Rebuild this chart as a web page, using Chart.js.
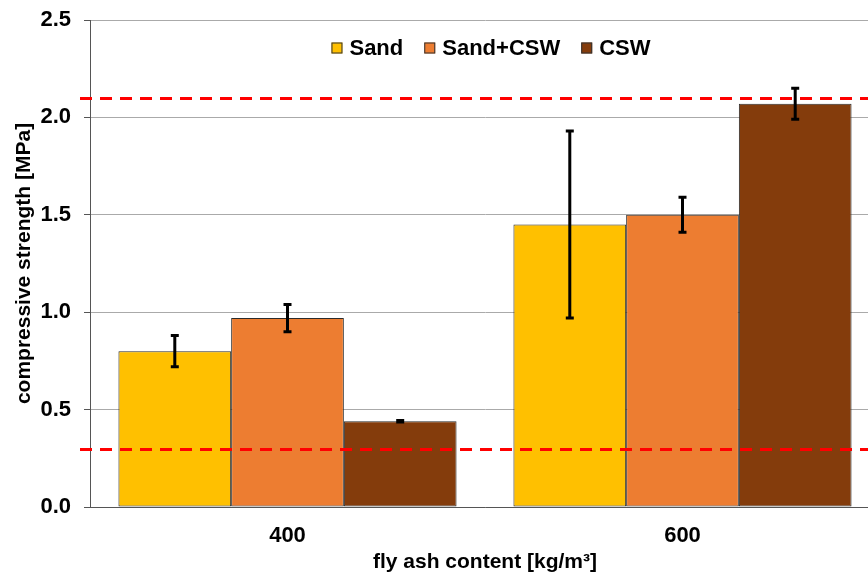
<!DOCTYPE html>
<html>
<head>
<meta charset="utf-8">
<script src="https://cdn.jsdelivr.net/npm/chart.js@4.4.1/dist/chart.umd.min.js"></script>
<style>
html, body { margin: 0; padding: 0; background: #fff; overflow: hidden; }
#wrap { position: relative; width: 890px; height: 575px; }
</style>
</head>
<body>
<div id="wrap"><canvas id="myChart" width="890" height="575"></canvas></div>
<script>
// data
var categories = ['400', '600'];
var seriesNames = ['Sand', 'Sand+CSW', 'CSW'];
var sandValues = [0.80, 1.45];
var sandCswValues = [0.97, 1.50];
var cswValues = [0.44, 2.07];
var sandErrors = [0.08, 0.48];
var sandCswErrors = [0.07, 0.09];
var cswErrors = [0.004, 0.08];
var limitValues = [2.1, 0.3];
var seriesColors = ['#FFC000', '#ED7D31', '#843C0C'];

var allValues = [sandValues, sandCswValues, cswValues];
var allErrors = [sandErrors, sandCswErrors, cswErrors];
var fontFamily = '"Liberation Sans", Arial, sans-serif';

Chart.defaults.font.family = fontFamily;
Chart.defaults.font.weight = 'bold';
Chart.defaults.color = '#000';

// error bars + red limit lines
var overlayPlugin = {
  id: 'overlay',
  afterDatasetsDraw: function(chart) {
    var ctx = chart.ctx;
    var y = chart.scales.y;
    var area = chart.chartArea;
    ctx.save();
    // dashed limits
    ctx.strokeStyle = '#FF0000';
    ctx.lineWidth = 3;
    ctx.setLineDash([12, 8]);
    limitValues.forEach(function(v) {
      var py = Math.round(y.getPixelForValue(v)) + 0.5;
      ctx.beginPath();
      ctx.moveTo(area.left - 10, py);
      ctx.lineTo(chart.width, py);
      ctx.stroke();
    });
    ctx.setLineDash([]);
    // error bars
    ctx.strokeStyle = '#000';
    ctx.lineWidth = 3;
    for (var i = 0; i < allValues.length; i++) {
      var meta = chart.getDatasetMeta(i);
      for (var j = 0; j < allValues[i].length; j++) {
        var x = meta.data[j].x;
        var top = y.getPixelForValue(allValues[i][j] + allErrors[i][j]);
        var bot = y.getPixelForValue(allValues[i][j] - allErrors[i][j]);
        ctx.beginPath();
        ctx.moveTo(x, top); ctx.lineTo(x, bot);
        ctx.moveTo(x - 4, top); ctx.lineTo(x + 4, top);
        ctx.moveTo(x - 4, bot); ctx.lineTo(x + 4, bot);
        ctx.stroke();
      }
    }
    ctx.restore();
  }
};

// legend drawn inside the plot
var legendPlugin = {
  id: 'insideLegend',
  afterDraw: function(chart) {
    var ctx = chart.ctx;
    var area = chart.chartArea;
    var box = 11, gapBox = 7, gapItem = 21;
    ctx.save();
    ctx.font = 'bold 22px ' + fontFamily;
    var widths = seriesNames.map(function(n) { return ctx.measureText(n).width; });
    var total = 0;
    widths.forEach(function(w) { total += box + gapBox + w; });
    total += gapItem * (seriesNames.length - 1);
    var x = (area.left + area.right) / 2 + 6 - total / 2;
    var cy = area.top + 28;
    ctx.textBaseline = 'middle';
    ctx.textAlign = 'left';
    for (var i = 0; i < seriesNames.length; i++) {
      ctx.fillStyle = seriesColors[i];
      ctx.fillRect(x, cy - box / 2, box, box);
      ctx.strokeStyle = '#333';
      ctx.lineWidth = 1;
      ctx.strokeRect(x + 0.5, cy - box / 2 + 0.5, box - 1, box - 1);
      ctx.fillStyle = '#000';
      ctx.fillText(seriesNames[i], x + box + gapBox, cy + 1);
      x += box + gapBox + widths[i] + gapItem;
    }
    ctx.restore();
  }
};

var datasets = seriesNames.map(function(name, i) {
  return {
    label: name,
    data: allValues[i],
    backgroundColor: seriesColors[i],
    borderColor: '#2b2b2b',
    borderWidth: 1,
    borderSkipped: false,
    categoryPercentage: 0.856,
    barPercentage: 1.0
  };
});

const myChart = new Chart(document.getElementById('myChart'), {
  type: 'bar',
  data: { labels: categories, datasets: datasets },
  plugins: [overlayPlugin, legendPlugin],
  options: {
    responsive: false,
    animation: false,
    layout: { padding: { top: 20, right: 10, bottom: 0, left: 0 } },
    plugins: {
      legend: { display: false },
      tooltip: { enabled: false }
    },
    scales: {
      x: {
        grid: { display: false, drawTicks: false },
        border: { display: true, color: '#555', width: 1 },
        ticks: { font: { size: 22, weight: 'bold' }, color: '#000', padding: 16 },
        title: {
          display: true,
          text: 'fly ash content [kg/m³]',
          font: { size: 21, weight: 'bold' },
          color: '#000',
          padding: { top: 0, bottom: 0 }
        },
        afterFit: function(scale) { scale.height = 68; }
      },
      y: {
        min: 0,
        max: 2.5,
        ticks: {
          stepSize: 0.5,
          font: { size: 22, weight: 'bold' },
          color: '#000',
          padding: 13,
          callback: function(v) { return Number(v).toFixed(1); }
        },
        grid: { color: '#AAAAAA', lineWidth: 1, tickLength: 6, tickColor: '#555' },
        border: { display: true, color: '#555', width: 1 },
        title: {
          display: true,
          text: 'compressive strength [MPa]',
          font: { size: 21, weight: 'bold' },
          color: '#000',
          padding: { top: 12, bottom: 0 }
        },
        afterFit: function(scale) {
          scale.width = 90;
          scale.paddingTop = 0;
          scale.paddingBottom = 0;
        }
      }
    }
  }
});
</script>
</body>
</html>
